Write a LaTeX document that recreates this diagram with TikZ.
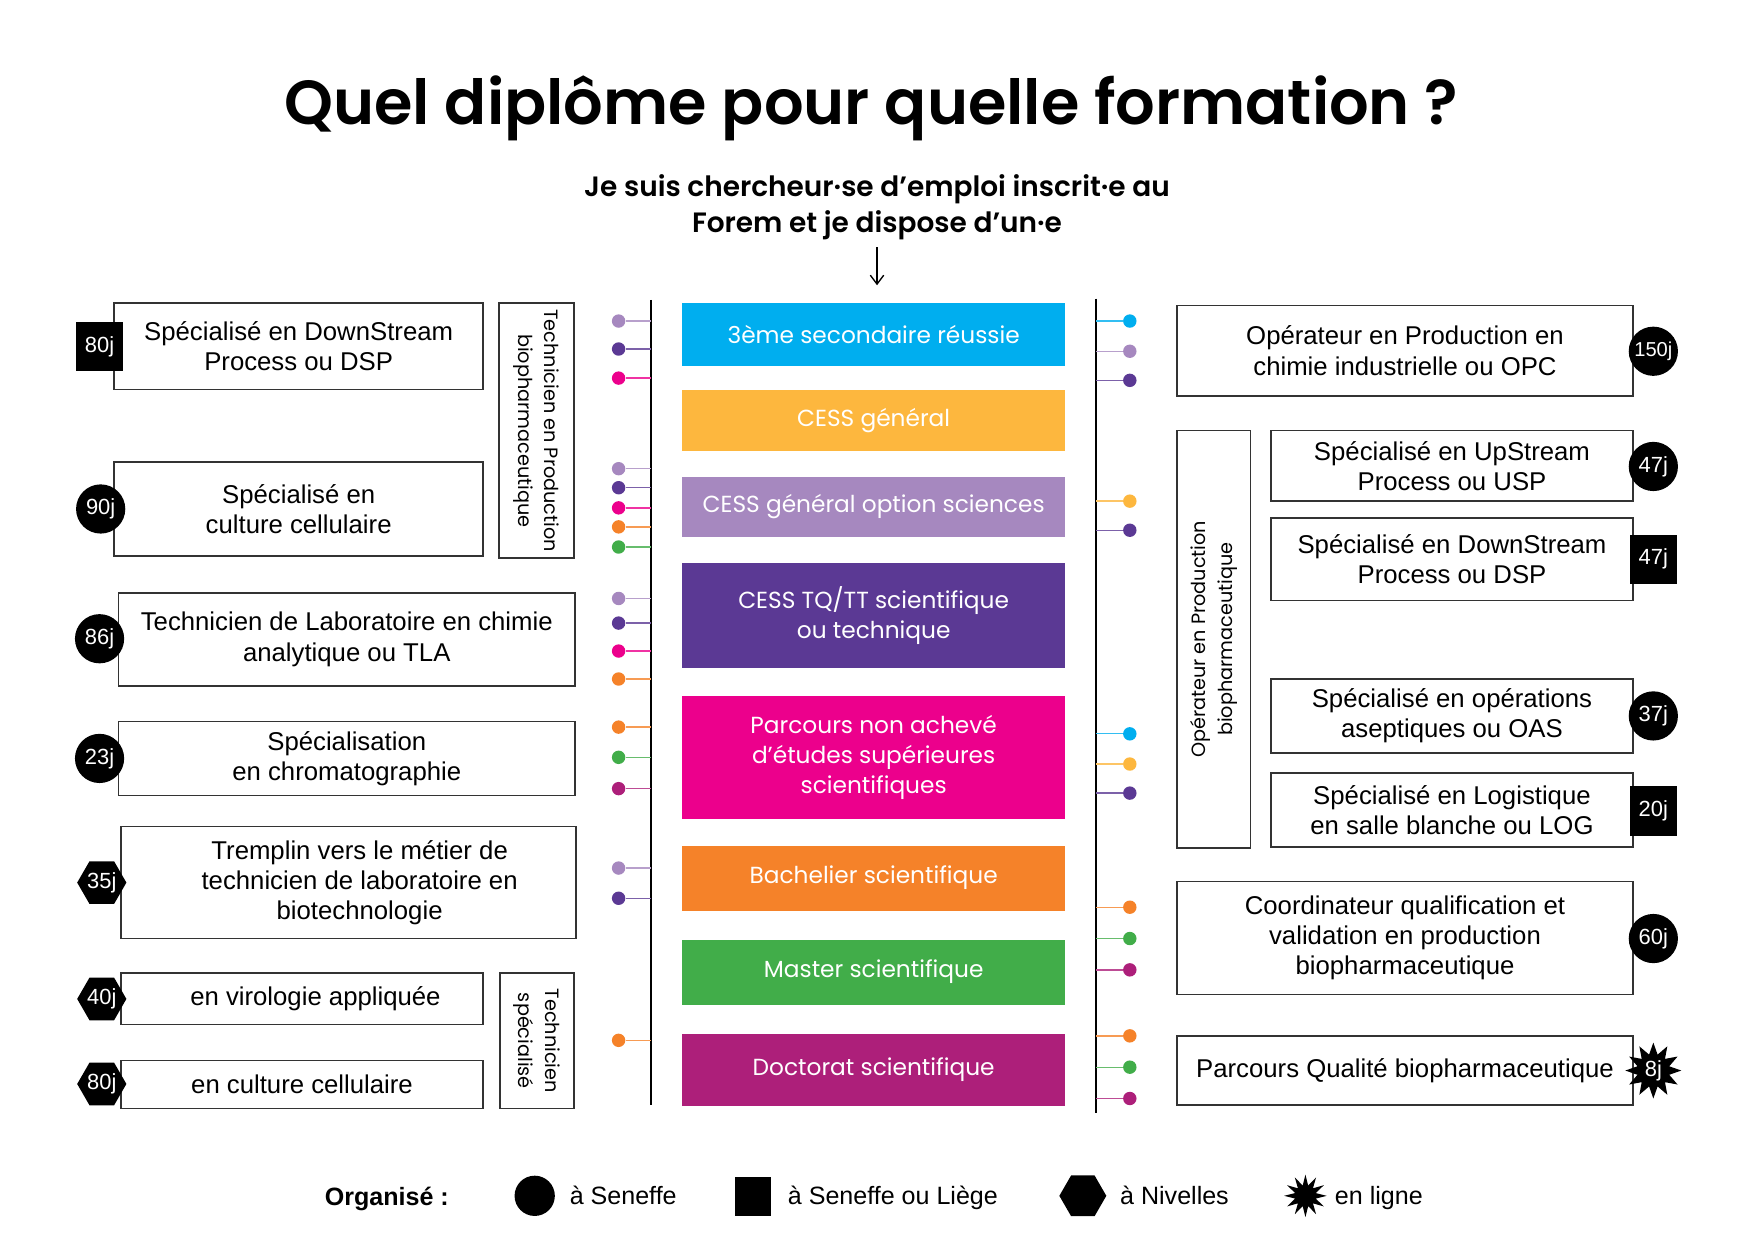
\documentclass[tikz,border=0pt]{standalone}
\usepackage{fontspec}
\setmainfont{Poppins}
\newfontfamily\popsb{Poppins SemiBold}
\newfontfamily\lib{Liberation Sans}
\usetikzlibrary{shapes.geometric,arrows.meta}
\definecolor{cCyan}{HTML}{00AEEF}
\definecolor{cYel}{HTML}{FDB73E}
\definecolor{cLpur}{HTML}{A688BF}
\definecolor{cDpur}{HTML}{5B3994}
\definecolor{cMag}{HTML}{EC008C}
\definecolor{cOra}{HTML}{F58229}
\definecolor{cGre}{HTML}{41AD49}
\definecolor{cPlum}{HTML}{AD1F7A}
\definecolor{bord}{HTML}{333333}
\tikzset{
  wbox/.style={draw=bord, line width=0.7pt, inner sep=0pt, align=center,
    font=\lib\fontsize{11.5}{13.5}\selectfont},
  btext/.style={inner sep=0pt, align=center, font=\lib\fontsize{11.5}{13.5}\selectfont},
  cbox/.style={inner sep=0pt, align=center, text=white, minimum width=171pt,
    font=\fontsize{10.4}{13.5}\selectfont},
  vbox/.style={draw=bord, line width=0.7pt, inner sep=0pt, align=center,
    font=\fontsize{8.6}{12}\selectfont},
  badge/.style={fill=black, inner sep=0pt, text=white,
    font=\lib\fontsize{9.8}{10}\selectfont},
  circb/.style={badge, circle, minimum size=22pt},
  sqb/.style={badge, rectangle, minimum width=21pt, minimum height=22pt},
  hexb/.style={badge, regular polygon, regular polygon sides=6, minimum size=22pt},
  starb/.style={badge, star, star points=12, star point ratio=1.7, minimum size=25pt},
  dotn/.style={circle, inner sep=0pt, minimum size=6pt},
  conn/.style={line width=0.6pt},
  vline/.style={line width=0.8pt, black},
  legt/.style={inner sep=0pt, anchor=base west, font=\lib\fontsize{11.2}{13}\selectfont},
}
\begin{document}
\begin{tikzpicture}[x=0.5pt,y=-0.5pt]
\useasboundingbox (0,0) rectangle (1568,1108);
\fill[white] (0,0) rectangle (1568,1108);

% title
\node[inner sep=0pt, anchor=base, font=\popsb\fontsize{27.8}{32}\selectfont] (title) at (779,111) {Quel diplôme pour quelle formation ?};
\node[inner sep=0pt, anchor=base, align=center, font=\popsb\fontsize{12.5}{16}\selectfont] (sub) at (784,208) {Je suis chercheur·se d’emploi inscrit·e au\\Forem et je dispose d’un·e};
\coordinate (arS) at (784,221);
\coordinate (arE) at (784,255);
\draw[line width=0.6pt, -{Straight Barb[length=4pt,width=6pt]}] (arS) -- (arE);

% vertical lines
\coordinate (LT) at (582,268); \coordinate (LB) at (582,988);
\coordinate (RT) at (980,267); \coordinate (RB) at (980,995);
\draw[vline] (LT) -- (LB);
\draw[vline] (RT) -- (RB);

% centre boxes
\node[cbox, fill=cCyan, minimum height=28pt] (c1) at (781,299) {3ème secondaire réussie};
\node[cbox, fill=cYel, minimum height=27pt] (c2) at (781,376) {CESS général};
\node[cbox, fill=cLpur, minimum height=27pt] (c3) at (781,453) {CESS général option sciences};
\node[cbox, fill=cDpur, minimum height=47pt] (c4) at (781,550) {CESS TQ/TT scientifique\\ou technique};
\node[cbox, fill=cMag, minimum height=55pt] (c5) at (781,677) {Parcours non achevé\\d’études supérieures\\scientifiques};
\node[cbox, fill=cOra, minimum height=29pt] (c6) at (781,785) {Bachelier scientifique};
\node[cbox, fill=cGre, minimum height=29pt] (c7) at (781,869) {Master scientifique};
\node[cbox, fill=cPlum, minimum height=32.5pt] (c8) at (781,956.5) {Doctorat scientifique};

% left dots
\foreach \n/\y/\c in {a1/287/cLpur,a2/312/cDpur,a3/338/cMag,
  a4/419/cLpur,a5/436/cDpur,a6/454/cMag,a7/471/cOra,a8/489/cGre,
  a9/535/cLpur,a10/557/cDpur,a11/582/cMag,a12/607/cOra,
  a13/650/cOra,a14/677/cGre,a15/705/cPlum,
  a16/776/cLpur,a17/803/cDpur,a18/930/cOra}{
  \node[dotn, fill=\c] (\n) at (553,\y) {};
  \draw[conn, \c!80] (\n) -- (\n -| LT);
}
% right dots
\foreach \n/\y/\c in {b1/287/cCyan,b2/314/cLpur,b3/340/cDpur,
  b4/448/cYel,b5/474/cDpur,
  b6/656/cCyan,b7/683/cYel,b8/709/cDpur,
  b9/811/cOra,b10/839/cGre,b11/867/cPlum,
  b12/926/cOra,b13/954/cGre,b14/982/cPlum}{
  \node[dotn, fill=\c] (\n) at (1010,\y) {};
  \draw[conn, \c!80] (\n) -- (\n -| RT);
}

% left boxes
\node[wbox, minimum width=165pt, minimum height=38.5pt] (l1) at (267,309.5) {Spécialisé en DownStream\\Process ou DSP};
\node[wbox, minimum width=165pt, minimum height=42pt] (l2) at (267,455) {Spécialisé en\\culture cellulaire};
\node[vbox, rotate=-90, minimum width=114pt, minimum height=33.5pt] (lv1) at (479.5,385) {Technicien en Production\\biopharmaceutique};
\node[wbox, minimum width=204pt, minimum height=41.5pt] (l3) at (310,571.5) {Technicien de Laboratoire en chimie\\analytique ou TLA};
\node[wbox, minimum width=204pt, minimum height=33pt] (l4) at (310,678) {Spécialisation\\en chromatographie};
\node[wbox, minimum width=203.5pt, minimum height=50pt] (l5) at (311.5,789) {};
\node[btext] (l5t) at ([xshift=5pt]l5.center) {Tremplin vers le métier de\\technicien de laboratoire en\\biotechnologie};
\node[wbox, minimum width=162pt, minimum height=23pt] (l6) at (270,893) {};
\node[btext] (l6t) at ([xshift=6pt]l6.center) {en virologie appliquée};
\node[wbox, minimum width=162pt, minimum height=21.5pt] (l7) at (270,969.5) {en culture cellulaire};
\node[vbox, rotate=-90, minimum width=60.5pt, minimum height=33pt] (lv2) at (480,930.5) {Technicien\\spécialisé};

% right boxes
\node[wbox, minimum width=204pt, minimum height=40.5pt] (r1) at (1256,313.5) {Opérateur en Production en\\chimie industrielle ou OPC};
\node[vbox, rotate=90, minimum width=186.5pt, minimum height=33pt] (rv1) at (1085,571.5) {Opérateur en Production\\biopharmaceutique};
\node[wbox, minimum width=162pt, minimum height=31.5pt] (r2) at (1298,416.5) {Spécialisé en UpStream\\Process ou USP};
\node[wbox, minimum width=162pt, minimum height=37pt] (r3) at (1298,500) {Spécialisé en DownStream\\Process ou DSP};
\node[wbox, minimum width=162pt, minimum height=33pt] (r4) at (1298,640) {Spécialisé en opérations\\aseptiques ou OAS};
\node[wbox, minimum width=162pt, minimum height=33pt] (r5) at (1298,724) {Spécialisé en Logistique\\en salle blanche ou LOG};
\node[wbox, minimum width=204pt, minimum height=50.5pt] (r6) at (1256,838.5) {Coordinateur qualification et\\validation en production\\biopharmaceutique};
\node[wbox, minimum width=204pt, minimum height=31pt] (r7) at (1256,957) {Parcours Qualité biopharmaceutique};

% badges
\node[sqb] (g1) at (89,310) {80j};
\node[circb] (g2) at (90,455) {90j};
\node[circb] (g3) at (89,571) {86j};
\node[circb] (g4) at (89,678) {23j};
\node[hexb] (g5) at (91,789) {35j};
\node[hexb] (g6) at (91,893) {40j};
\node[hexb] (g7) at (91,969) {80j};
\node[circb, font=\lib\fontsize{9}{10}\selectfont] (h1) at (1478,314) {150j};
\node[circb] (h2) at (1478,417) {47j};
\node[sqb] (h3) at (1478,500) {47j};
\node[circb] (h4) at (1478,640) {37j};
\node[sqb] (h5) at (1478,725) {20j};
\node[circb] (h6) at (1478,839) {60j};
\node[starb] (h7) at (1478,957) {8j};

% legend
\node[legt, font=\lib\bfseries\fontsize{11.2}{13}\selectfont] (lg0) at (290,1078) {Organisé :};
\node[fill=black, circle, inner sep=0pt, minimum size=18pt] (lg1) at (478,1069) {};
\node[legt] (lg1t) at (509,1077) {à Seneffe};
\node[fill=black, rectangle, inner sep=0pt, minimum width=16pt, minimum height=17.5pt] (lg2) at (673,1069.5) {};
\node[legt] (lg2t) at (704,1077) {à Seneffe ou Liège};
\node[fill=black, regular polygon, regular polygon sides=6, inner sep=0pt, minimum size=21pt] (lg3) at (968,1069) {};
\node[legt] (lg3t) at (1001,1077) {à Nivelles};
\node[fill=black, star, star points=12, star point ratio=2, inner sep=0pt, minimum size=19pt] (lg4) at (1167,1069) {};
\node[legt] (lg4t) at (1193,1077) {en ligne};
\end{tikzpicture}
\end{document}
